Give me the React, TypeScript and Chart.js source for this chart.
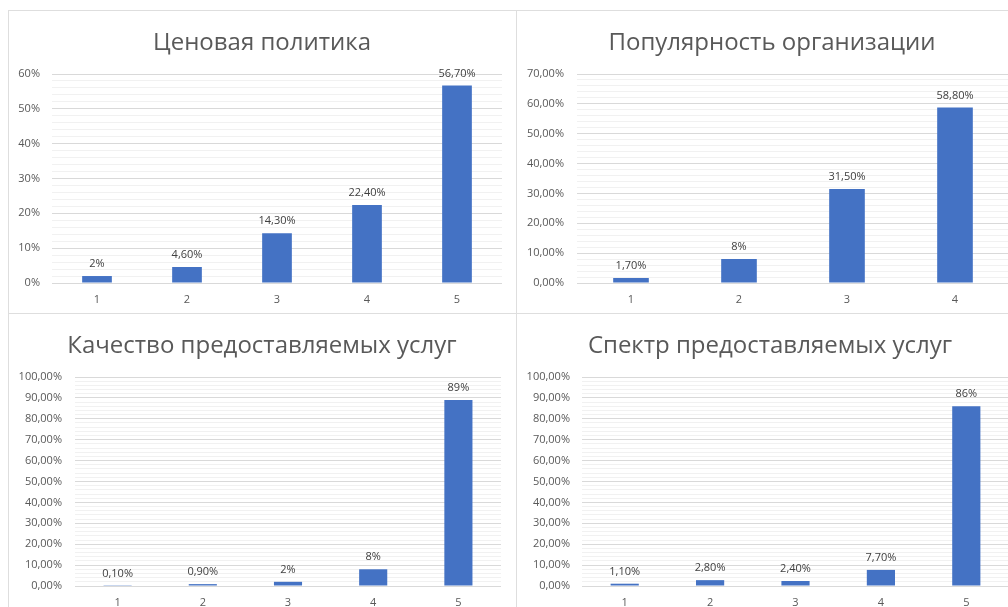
import { useEffect, useRef } from "react";
import { Chart, registerables } from "chart.js";

Chart.register(...registerables);

// ---- Data ----
const priceTitle = "Ценовая политика";
const priceCategories = ["1", "2", "3", "4", "5"];
const priceValues = [2, 4.6, 14.3, 22.4, 56.7];
const priceLabels = ["2%", "4,60%", "14,30%", "22,40%", "56,70%"];
const priceTickLabels = ["0%", "10%", "20%", "30%", "40%", "50%", "60%"];

const popTitle = "Популярность организации";
const popCategories = ["1", "2", "3", "4"];
const popValues = [1.7, 8, 31.5, 58.8];
const popLabels = ["1,70%", "8%", "31,50%", "58,80%"];
const popTickLabels = ["0,00%", "10,00%", "20,00%", "30,00%", "40,00%", "50,00%", "60,00%", "70,00%"];

const qualityTitle = "Качество предоставляемых услуг";
const qualityCategories = ["1", "2", "3", "4", "5"];
const qualityValues = [0.1, 0.9, 2, 8, 89];
const qualityLabels = ["0,10%", "0,90%", "2%", "8%", "89%"];
const qualityTickLabels = ["0,00%", "10,00%", "20,00%", "30,00%", "40,00%", "50,00%", "60,00%", "70,00%", "80,00%", "90,00%", "100,00%"];

const rangeTitle = "Спектр предоставляемых услуг";
const rangeCategories = ["1", "2", "3", "4", "5"];
const rangeValues = [1.1, 2.8, 2.4, 7.7, 86];
const rangeLabels = ["1,10%", "2,80%", "2,40%", "7,70%", "86%"];
const rangeTickLabels = qualityTickLabels;

const FONT = "'Open Sans', 'Noto Sans', sans-serif";
const BAR = "#4472C4";

type PanelProps = {
  title: string;
  titleCenter: number;
  categories: string[];
  values: number[];
  labels: string[];
  tickLabels: string[];
  yMax: number;
  left: number;
  top: number;
  width: number;
  height: number;
  yWidth: number;
  yPad: number;
  padRight: number;
  xHeight: number;
};

function Panel(p: PanelProps) {
  const ref = useRef<HTMLCanvasElement | null>(null);
  useEffect(() => {
    if (!ref.current) return;
    const labelPlugin = {
      id: "barLabels",
      afterDatasetsDraw(chart: any) {
        const ctx = chart.ctx;
        const meta = chart.getDatasetMeta(0);
        ctx.save();
        ctx.font = `11px ${FONT}`;
        ctx.fillStyle = "#404040";
        ctx.textAlign = "center";
        ctx.textBaseline = "middle";
        meta.data.forEach((el: any, i: number) => {
          ctx.fillText(p.labels[i], el.x, el.y - 12);
        });
        ctx.restore();
      },
    };
    const chart = new Chart(ref.current, {
      type: "bar",
      data: {
        labels: p.categories,
        datasets: [
          {
            data: p.values,
            backgroundColor: BAR,
            barPercentage: 0.33,
            categoryPercentage: 1,
          },
        ],
      },
      options: {
        responsive: false,
        animation: false,
        layout: { padding: { left: 0, right: p.padRight, top: 64, bottom: 0 } },
        plugins: {
          legend: { display: false },
          tooltip: { enabled: false },
          title: { display: false },
        },
        scales: {
          x: {
            grid: { display: false, drawTicks: false },
            border: { display: false },
            ticks: { color: "#595959", font: { family: FONT, size: 11 }, padding: 10 },
            afterFit: (s: any) => {
              s.height = p.xHeight;
            },
          },
          y: {
            min: 0,
            max: p.yMax,
            border: { display: false },
            grid: {
              drawTicks: false,
              color: (c: any) =>
                c.tick && Math.round(c.tick.value) % 10 === 0 ? "#d9d9d9" : "#f1f1f1",
            },
            ticks: {
              stepSize: 2,
              maxTicksLimit: 200,
              autoSkip: false,
              padding: p.yPad,
              color: "#595959",
              font: { family: FONT, size: 11 },
              callback: (v: any) => {
                const n = Math.round(Number(v));
                return n % 10 === 0 ? p.tickLabels[n / 10] : "";
              },
            },
            afterFit: (s: any) => {
              s.width = p.yWidth;
            },
          },
        },
      },
      plugins: [labelPlugin],
    } as any);
    return () => chart.destroy();
  }, []);
  return (
    <>
      <div
        style={{
          position: "absolute",
          left: p.left,
          top: p.top,
          width: p.width,
          height: p.height,
        }}
      >
        <canvas ref={ref} width={p.width} height={p.height} style={{ display: "block" }} />
      </div>
      <div
        style={{
          position: "absolute",
          left: p.titleCenter - 300,
          width: 600,
          top: p.top + 15,
          textAlign: "center",
          fontFamily: FONT,
          fontSize: 24,
          lineHeight: "32px",
          color: "#595959",
          whiteSpace: "nowrap",
        }}
      >
        {p.title}
      </div>
    </>
  );
}

const line = (l: number, t: number, w: number, h: number) => (
  <div style={{ position: "absolute", left: l, top: t, width: w, height: h, background: "#dedede" }} />
);

export default function App() {
  return (
    <div
      style={{
        position: "absolute",
        left: 0,
        top: 0,
        width: 1008,
        height: 607,
        overflow: "hidden",
        background: "#ffffff",
      }}
    >
      <Panel
        title={priceTitle}
        titleCenter={262}
        categories={priceCategories}
        values={priceValues}
        labels={priceLabels}
        tickLabels={priceTickLabels}
        yMax={60}
        left={8}
        top={10}
        width={507}
        height={303}
        yWidth={44}
        yPad={12}
        padRight={13}
        xHeight={30}
      />
      <Panel
        title={popTitle}
        titleCenter={772}
        categories={popCategories}
        values={popValues}
        labels={popLabels}
        tickLabels={popTickLabels}
        yMax={70}
        left={516}
        top={10}
        width={500}
        height={303}
        yWidth={61}
        yPad={13}
        padRight={7}
        xHeight={30}
      />
      <Panel
        title={qualityTitle}
        titleCenter={262}
        categories={qualityCategories}
        values={qualityValues}
        labels={qualityLabels}
        tickLabels={qualityTickLabels}
        yMax={100}
        left={8}
        top={313}
        width={507}
        height={300}
        yWidth={67}
        yPad={13}
        padRight={14}
        xHeight={27}
      />
      <Panel
        title={rangeTitle}
        titleCenter={770}
        categories={rangeCategories}
        values={rangeValues}
        labels={rangeLabels}
        tickLabels={rangeTickLabels}
        yMax={100}
        left={516}
        top={313}
        width={500}
        height={300}
        yWidth={66}
        yPad={12}
        padRight={7}
        xHeight={27}
      />
      {line(8, 10, 1000, 1)}
      {line(8, 313, 1000, 1)}
      {line(8, 10, 1, 597)}
      {line(516, 10, 1, 597)}
    </div>
  );
}
